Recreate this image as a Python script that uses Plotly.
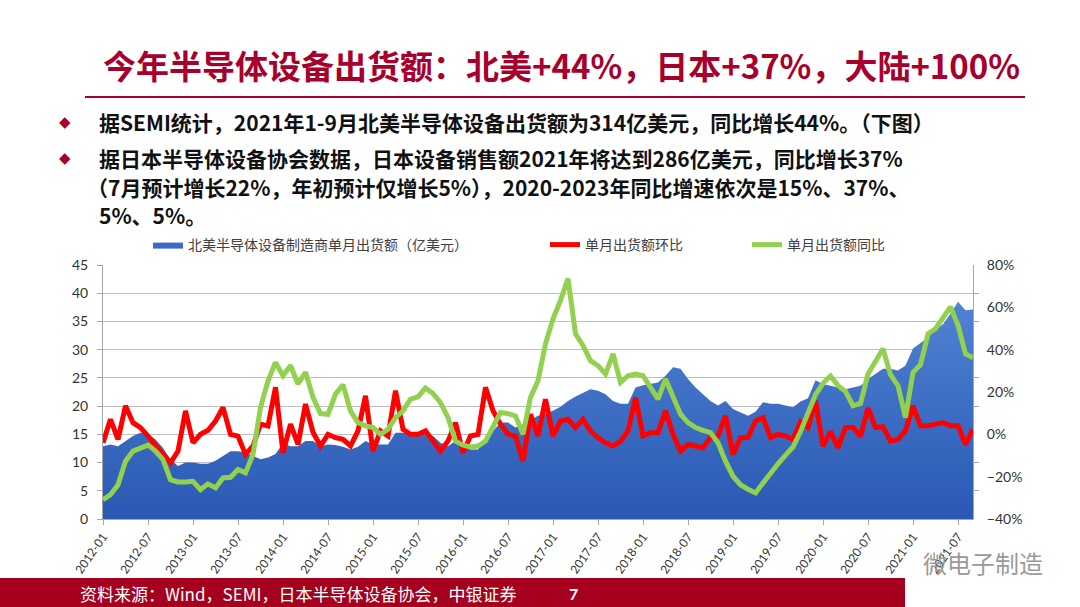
import plotly.graph_objects as go

# ---------------- data ----------------
months = [f"{y}-{m:02d}" for y in range(2012, 2022) for m in range(1, 13)][:117]  # 2012-01 .. 2021-09
tick_labels = months[0:117:6]

billings = [
    12.9, 13.2, 12.9, 13.8, 14.7, 15.3, 15.0, 14.1, 12.6, 10.6, 9.4, 10.0,
    10.0, 9.8, 9.8, 10.3, 11.2, 12.0, 12.0, 11.8, 11.2, 10.6, 10.9, 11.5,
    13.4, 12.9, 12.9, 13.8, 13.8, 12.9, 13.2, 13.1, 12.8, 12.3, 12.8, 13.8,
    13.2, 13.2, 13.2, 15.3, 15.3, 15.0, 15.0, 15.0, 14.7, 13.5, 12.9, 13.8,
    12.9, 12.3, 12.3, 14.4, 15.6, 17.1, 17.1, 16.2, 16.8, 17.6, 18.3, 18.7,
    19.2, 19.9, 20.9, 21.7, 22.4, 23.0, 22.7, 22.1, 20.9, 20.4, 20.4, 23.3,
    23.7, 23.9, 24.2, 25.4, 26.9, 26.6, 24.8, 23.3, 22.1, 20.9, 20.1, 20.9,
    19.5, 18.9, 18.3, 19.0, 20.7, 20.4, 20.4, 20.1, 19.8, 20.8, 21.4, 24.6,
    23.9, 23.6, 23.3, 23.0, 23.3, 23.6, 24.8, 25.7, 26.6, 26.6, 26.3, 27.2,
    30.2, 31.2, 32.2, 33.5, 34.5, 36.4, 38.5, 37.0, 37.1,
]

mom = [
    -4.0, 7.1, -2.4, 13.5, 5.5, 3.2, -0.8, -5.5, -9.5, -13.5, -7.9, 11.1,
    -4.0, 0.0, 1.9, 6.3, 12.7, 0.0, -0.8, -9.5, -5.5, 4.8, 4.0, 22.2,
    -8.7, 4.8, -4.8, 14.3, 1.0, -5.5, 0.0, -1.6, -2.4, -5.5, 1.6, 18.2,
    -7.9, 1.6, -0.8, 20.6, 2.4, 0.0, 0.0, 1.6, -3.2, -7.9, -3.2, 5.5,
    -8.7, -0.8, 0.0, 22.2, 11.1, 4.8, 0.0, -0.8, -12.7, 9.5, -0.8, 16.6,
    -0.8, 6.3, 7.1, 3.2, 7.1, 1.6, -1.6, -4.0, -5.5, -3.2, 1.6, 17.4,
    -0.8, 0.8, 0.8, 11.1, 0.0, -7.9, -4.8, -5.5, -6.3, -1.6, -0.8, 8.7,
    -9.5, -1.6, -1.5, 6.3, 7.9, -1.6, 0.0, -0.8, -2.4, 6.0, 3.2, 15.8,
    -5.5, 1.3, -6.3, 3.2, 3.2, -0.8, 12.4, 3.2, 3.5, -3.2, -2.4, 1.6,
    13.5, 4.0, 4.0, 4.8, 5.5, 4.0, 4.0, -4.8, 2.4,
]

yoy = [
    -30.9, -28.5, -23.8, -12.7, -7.9, -6.3, -5.1, -7.9, -11.9, -21.4, -22.5, -22.5,
    -22.2, -26.1, -23.4, -25.3, -20.6, -20.3, -16.6, -18.2, -9.5, 12.7, 25.3, 34.0,
    27.7, 32.5, 23.8, 29.3, 17.5, 9.8, 9.5, 19.0, 23.4, 11.1, 5.5, 4.0,
    3.2, 0.0, 2.4, 7.9, 11.1, 16.6, 17.7, 21.9, 19.3, 15.0, 7.9, -3.2,
    -5.1, -6.0, -5.5, -3.2, 3.2, 10.3, 9.8, 8.7, 0.0, 17.4, 25.3, 42.8,
    54.6, 63.3, 73.6, 47.5, 42.0, 34.8, 32.5, 28.5, 38.0, 24.5, 27.7, 28.5,
    27.7, 22.2, 16.6, 26.1, 17.4, 9.5, 5.5, 3.2, 1.9, 0.8, -4.0, -12.7,
    -19.8, -23.8, -26.0, -27.7, -23.0, -18.2, -13.9, -9.8, -6.0, 1.3, 9.8, 18.7,
    24.1, 27.6, 23.0, 20.3, 13.5, 14.6, 28.5, 34.0, 40.4, 28.2, 23.0, 7.9,
    29.3, 32.9, 47.5, 49.9, 54.6, 60.2, 51.5, 38.0, 36.1,
]

series_names = ["北美半导体设备制造商单月出货额（亿美元）", "单月出货额环比", "单月出货额同比"]

title_text = "今年半导体设备出货额：北美+44%，日本+37%，大陆+100%"
bullet_lines = [
    "据SEMI统计，2021年1-9月北美半导体设备出货额为314亿美元，同比增长44%。（下图）",
    "据日本半导体设备协会数据，日本设备销售额2021年将达到286亿美元，同比增长37%",
    "（7月预计增长22%，年初预计仅增长5%），2020-2023年同比增速依次是15%、37%、",
    "5%、5%。",
]
source_text = "资料来源：Wind，SEMI，日本半导体设备协会，中银证券"
page_no = "7"
watermark = "微电子制造"

# ---------------- layout helpers ----------------
W, H = 1080, 607
PL, PR, PT, PB = 103, 973, 265, 519  # plot area in pixels


def fx(px):
    return (px - PL) / (PR - PL)


def fy(py):
    return (PB - py) / (PB - PT)


CJK = "Noto Sans CJK SC"
RED_DARK = "#a8002c"

fig = go.Figure()

fig.add_trace(go.Scatter(
    x=months, y=billings, name=series_names[0], mode="lines",
    line=dict(width=0, color="#3a69c6"), fill="tozeroy", fillcolor="#3a69c6",
    fillgradient=dict(type="vertical", start=0, stop=40,
                      colorscale=[[0, "#2a58b4"], [1, "#5284d4"]]),
    yaxis="y", showlegend=False,
))
# legend entry for the area series (solid swatch)
fig.add_trace(go.Scatter(
    x=[None], y=[None], name=series_names[0], mode="lines",
    line=dict(width=0, color="#3a69c6"), fill="toself", fillcolor="#3a69c6",
    yaxis="y", legend="legend",
))
fig.add_trace(go.Scatter(
    x=months, y=mom, name=series_names[1], mode="lines",
    line=dict(width=5, color="#ff0000"), yaxis="y2", legend="legend2",
))
fig.add_trace(go.Scatter(
    x=months, y=yoy, name=series_names[2], mode="lines",
    line=dict(width=5, color="#92d050"), yaxis="y2", legend="legend3",
))

legend_common = dict(orientation="h", yanchor="middle", y=fy(245), xanchor="left",
                     font=dict(family=CJK, size=14, color="#404040"),
                     bgcolor="rgba(0,0,0,0)")

fig.update_layout(
    width=W, height=H,
    margin=dict(l=PL, r=W - PR, t=PT, b=H - PB),
    paper_bgcolor="white", plot_bgcolor="white",
    font=dict(family="Lato, " + CJK, color="#333333"),
    legend=dict(legend_common, x=fx(148)),
    legend2=dict(legend_common, x=fx(545)),
    legend3=dict(legend_common, x=fx(747)),
    xaxis=dict(type="category", range=[0, len(months) - 1],
               tickmode="array", tickvals=tick_labels, ticktext=tick_labels,
               tickangle=-55, tickfont=dict(size=12, color="#333"),
               showgrid=False, showline=True, linecolor="#a6a6a6", linewidth=1,
               ticks="outside", ticklen=5, tickcolor="#a6a6a6"),
    yaxis=dict(range=[0, 45], dtick=5, tick0=0, showgrid=True, gridcolor="#bfbfbf",
               gridwidth=1, zeroline=False, showline=True, linecolor="#a6a6a6",
               ticks="outside", ticklen=5, tickcolor="#a6a6a6",
               tickfont=dict(size=14, color="#333"), ticklabelstandoff=6),
    yaxis2=dict(range=[-40, 80], dtick=20, tick0=-40, overlaying="y", side="right",
                showgrid=False, zeroline=False, showline=True, linecolor="#a6a6a6",
                ticksuffix="%", ticks="",
                minor=dict(ticks="outside", tick0=-40, dtick=40 / 3, ticklen=5,
                           tickcolor="#a6a6a6", showgrid=False),
                tickfont=dict(size=14, color="#333"), ticklabelstandoff=10),
)

# title
fig.add_annotation(text=f"<b>{title_text}</b>", xref="paper", yref="paper",
                   x=fx(561), y=fy(65), xanchor="center", yanchor="middle",
                   showarrow=False, font=dict(family=CJK, size=33, color=RED_DARK))
fig.add_shape(type="line", xref="paper", yref="paper", x0=fx(85), x1=fx(1025),
              y0=fy(97), y1=fy(97), line=dict(color=RED_DARK, width=2))

# bullets
bullet_y = [122, 158, 187, 215]
for i, (txt, yy) in enumerate(zip(bullet_lines, bullet_y)):
    fig.add_annotation(text=f"<b>{txt}</b>", xref="paper", yref="paper",
                       x=fx(97 if i != 2 else 85), y=fy(yy), xanchor="left", yanchor="middle",
                       showarrow=False, font=dict(family=CJK, size=21, color="#111111"))
for yy in bullet_y[:2]:
    fig.add_annotation(text="◆", xref="paper", yref="paper", x=fx(65), y=fy(yy),
                       xanchor="center", yanchor="middle", showarrow=False,
                       font=dict(family="DejaVu Sans", size=15, color=RED_DARK))

# footer
fig.add_shape(type="rect", xref="paper", yref="paper", x0=fx(0), x1=fx(905),
              y0=fy(607), y1=fy(578), fillcolor="#a5001e", line=dict(width=0), layer="above")
fig.add_annotation(text=source_text, xref="paper", yref="paper", x=fx(78), y=fy(593),
                   xanchor="left", yanchor="middle", showarrow=False,
                   font=dict(family=CJK, size=17, color="white"))
fig.add_annotation(text=f"<b>{page_no}</b>", xref="paper", yref="paper", x=fx(573), y=fy(593),
                   xanchor="center", yanchor="middle", showarrow=False,
                   font=dict(family="Lato", size=16, color="white"))
fig.add_annotation(text=watermark, xref="paper", yref="paper", x=fx(1045), y=fy(562),
                   xanchor="right", yanchor="middle", showarrow=False,
                   font=dict(family=CJK, size=24, color="#9a9a9a"))

fig.write_html("out.html", config={"displayModeBar": False},
               post_script="document.body.style.margin='0';")
